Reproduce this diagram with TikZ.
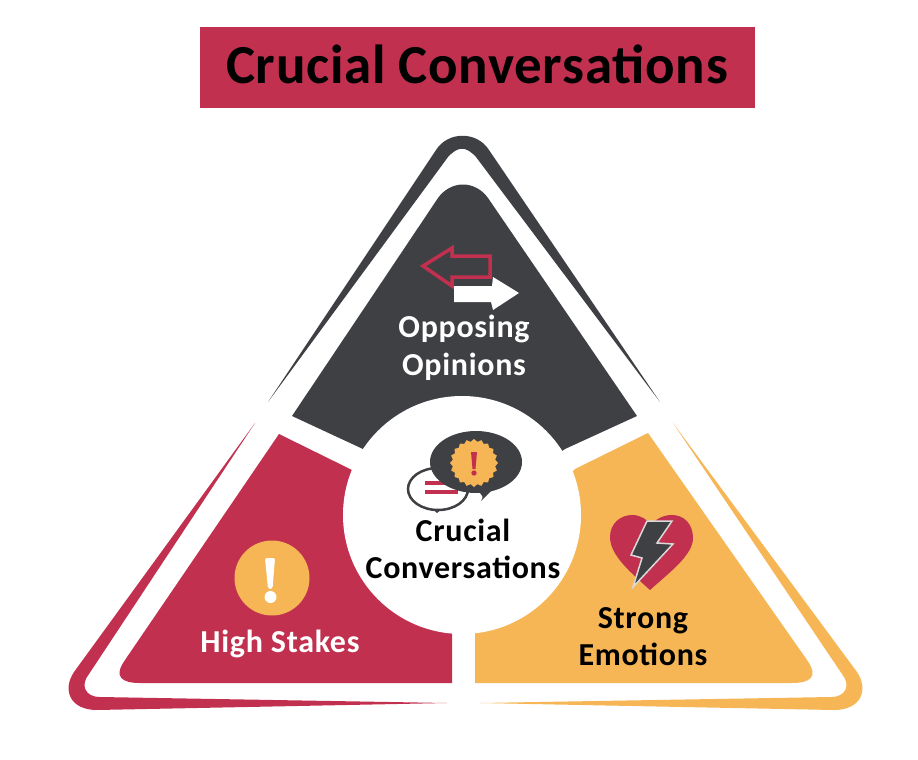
\documentclass[tikz,border=0pt]{standalone}
\usepackage{fontspec}
\setmainfont{Carlito}[BoldFont=Carlito Bold]
\usetikzlibrary{shapes.geometric}
\definecolor{crimson}{HTML}{C2304F}
\definecolor{slate}{HTML}{3F4044}
\definecolor{amber}{HTML}{F6B656}
\tikzset{
  lbl/.style={font=\bfseries\fontsize{#1}{#1}\selectfont\addfontfeature{LetterSpace=2.2}, anchor=base, inner sep=0pt},
  ttl/.style={font=\bfseries\fontsize{#1}{#1}\selectfont\addfontfeature{LetterSpace=1.3}, anchor=base, inner sep=0pt},
  whitetxt/.style={text=white},
  blacktxt/.style={text=black}
}
\begin{document}
\begin{tikzpicture}[x=1pt,y=-1pt]
\useasboundingbox (0,0) rectangle (918,760);
\fill[white] (0,0) rectangle (918,760);
% title
\node[fill=crimson, minimum width=555pt, minimum height=81pt, inner sep=0pt] (titlebar) at (477.5,67.5) {};
\node[ttl=55, blacktxt] (title) at (477,84) {Crucial Conversations};
% outlines
\fill[slate] (268,402) -- (436,150) .. controls (448,131) and (477,131) .. (489,150) -- (660,402) -- (476,157) .. controls (466,146) and (458,146) .. (448,157) -- cycle;
\fill[crimson] (255,423) -- (74,672) .. controls (62,690) and (70,710) .. (97,710) -- (447,703) -- (100,697) .. controls (85,697) and (80,685) .. (89,674) -- cycle;
\fill[amber] (673,423) -- (857,672) .. controls (869,690) and (861,710) .. (834,710) -- (480,703) -- (831,697) .. controls (846,697) and (851,685) .. (842,674) -- cycle;
% segments
\fill[slate] (292,416) -- (363,449) -- (462,520) -- (565,449) -- (637,416) -- (488,198) .. controls (475,180) and (451,180) .. (438,198) -- cycle;
\fill[crimson] (279,434) -- (352,470) -- (420,540) -- (452,600) -- (452,683) -- (140,683) .. controls (122,683) and (113,677) .. (125,660) -- cycle;
\fill[amber] (648,433) -- (575,469) -- (510,540) -- (475,600) -- (475,683) -- (792,683) .. controls (810,683) and (819,677) .. (807,660) -- cycle;
\node[circle, fill=white, minimum size=238pt, inner sep=0pt] (hub) at (462,515) {};
% arrows
\draw[crimson, line width=3.5pt, line join=miter] (423,266) -- (452,248) -- (452,256) -- (490,256) -- (490,277) -- (452,277) -- (452,286) -- cycle;
\fill[white] (454,286) -- (492,286) -- (493,277) -- (519,293) -- (493,310) -- (491,302) -- (454,302) -- cycle;
% high stakes icon
\node[circle, fill=amber, minimum size=75pt, inner sep=0pt] (stakesdisc) at (272,578) {};
\fill[white, rounded corners=2pt] (265,558) -- (275,558) -- (272.5,589) -- (268,589) -- cycle;
\node[circle, fill=white, minimum size=12pt, inner sep=0pt] (stakesdot) at (270.5,597) {};
% heart icon
\fill[crimson] (650,590) .. controls (630,572) and (610,555) .. (610,537) .. controls (610,523) and (621,515) .. (632,515) .. controls (640,515) and (647,519) .. (651,525) .. controls (656,519) and (663,515) .. (672,515) .. controls (684,515) and (693,524) .. (693,538) .. controls (693,555) and (670,572) .. (650,590) -- cycle;
\fill[slate, draw=white!85!black, line width=1.5pt, line join=miter] (647,521) -- (672,521) -- (657,543) -- (673,544) -- (633,587) -- (642,558) -- (631,555) -- cycle;
% centre icon
\node[ellipse, fill=white, draw=slate, line width=2.5pt, minimum width=60pt, minimum height=42pt, inner sep=0pt] (smallbubble) at (438,489) {};
\fill[slate] (433,509) -- (442,509) -- (437,513) -- cycle;
\fill[crimson] (425,481) rectangle (458,485);
\fill[crimson] (425,490) rectangle (458,494);
\fill[slate] (472,490) -- (492,490) -- (481,501) .. controls (484,497) and (482,495) .. (480,493) -- cycle;
\node[ellipse, fill=slate, minimum width=92pt, minimum height=62pt, inner sep=0pt] (bigbubble) at (476,462) {};
\node[star, star points=20, star point ratio=1.12, fill=amber, minimum size=48pt, inner sep=0pt] (badge) at (474,463) {};
\fill[crimson] (471,452) -- (477,452) -- (475.5,469) -- (472.5,469) -- cycle;
\fill[crimson] (474,473) circle (2.7);
% labels
\node[lbl=32, whitetxt] (opp1) at (464,337) {Opposing};
\node[lbl=32, whitetxt] (opp2) at (464,375) {Opinions};
\node[lbl=32, whitetxt] (high) at (280,652) {High Stakes};
\node[lbl=32, blacktxt] (strong1) at (643,628) {Strong};
\node[lbl=32, blacktxt] (strong2) at (643,665) {Emotions};
\node[lbl=32, blacktxt] (cruc1) at (463,541) {Crucial};
\node[lbl=32, blacktxt] (cruc2) at (463,578) {Conversations};
\end{tikzpicture}
\end{document}
